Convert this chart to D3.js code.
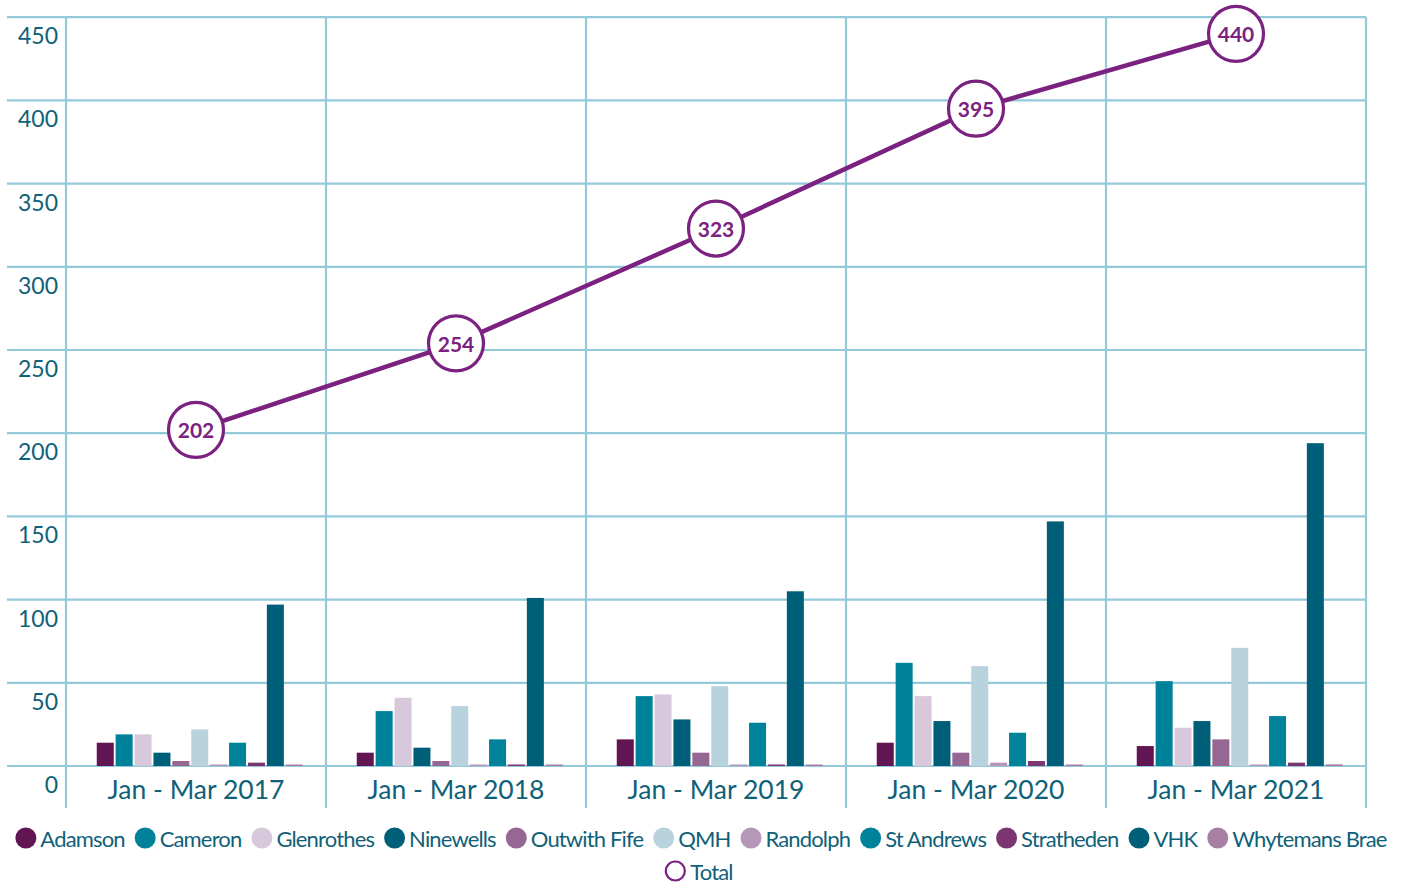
<!DOCTYPE html>
<html>
<head>
<meta charset="utf-8">
<script src="https://cdn.jsdelivr.net/npm/d3@7"></script>
<style>
  html, body { margin: 0; padding: 0; background: #ffffff; }
  svg { display: block; font-family: Lato, "Open Sans", sans-serif; }
</style>
</head>
<body>
<svg id="chart" width="1406" height="884"></svg>
<script>
// Quarterly periods on the x axis
const periods = ["Jan - Mar 2017", "Jan - Mar 2018", "Jan - Mar 2019", "Jan - Mar 2020", "Jan - Mar 2021"];

// Sites, one bar each per period
const sites = ["Adamson", "Cameron", "Glenrothes", "Ninewells", "Outwith Fife", "QMH",
               "Randolph", "St Andrews", "Stratheden", "VHK", "Whytemans Brae"];

const siteColors = ["#611653", "#00819a", "#d8c8dc", "#005f78", "#956792", "#b9d3de",
                    "#b597b8", "#00829a", "#7b3570", "#005f78", "#a67fa3"];

// Counts per site, one array per site in period order
const adamson     = [14, 8, 16, 14, 12];
const cameron     = [19, 33, 42, 62, 51];
const glenrothes  = [19, 41, 43, 42, 23];
const ninewells   = [8, 11, 28, 27, 27];
const outwithFife = [3, 3, 8, 8, 16];
const qmh         = [22, 36, 48, 60, 71];
const randolph    = [0, 0, 0, 2, 0];
const stAndrews   = [14, 16, 26, 20, 30];
const stratheden  = [2, 0, 0, 3, 2];
const vhk         = [97, 101, 105, 147, 194];
const whytemans   = [0, 0, 0, 0, 1];

// Overall total per period
const totals = [202, 254, 323, 395, 440];

// Y axis ticks
const yTicks = [0, 50, 100, 150, 200, 250, 300, 350, 400, 450];

const seriesValues = [adamson, cameron, glenrothes, ninewells, outwithFife, qmh,
                      randolph, stAndrews, stratheden, vhk, whytemans];

const gridColor = "#94c9da";
const textColor = "#0f6179";
const totalColor = "#7b2180";

const svg = d3.select("#chart");

const x = d3.scaleBand().domain(periods).range([66, 1366]).padding(0);
const y = d3.scaleLinear().domain([0, 450]).range([766, 17.2]);
const xSite = d3.scaleBand().domain(sites).range([29.8, 237.7]).paddingInner(0.1).paddingOuter(0.05);

// Horizontal gridlines
svg.append("g").selectAll("line").data(yTicks).join("line")
  .attr("x1", 7).attr("x2", 1366)
  .attr("y1", d => y(d)).attr("y2", d => y(d))
  .attr("stroke", gridColor).attr("stroke-width", 2.2);

// Vertical separators between periods
const bounds = periods.map(p => x(p)).concat([x(periods[periods.length - 1]) + x.bandwidth()]);
svg.append("g").selectAll("line").data(bounds).join("line")
  .attr("x1", d => d).attr("x2", d => d)
  .attr("y1", y(450)).attr("y2", 808)
  .attr("stroke", gridColor).attr("stroke-width", 2.2);

// Y tick labels sit just beneath each gridline
svg.append("g").selectAll("text").data(yTicks).join("text")
  .attr("x", 58).attr("y", d => y(d) + 18)
  .attr("text-anchor", "end").attr("dominant-baseline", "central")
  .attr("fill", textColor).attr("font-size", 23)
  .text(d => d);

// Period labels
svg.append("g").selectAll("text").data(periods).join("text")
  .attr("x", d => x(d) + x.bandwidth() / 2).attr("y", 789)
  .attr("text-anchor", "middle").attr("dominant-baseline", "central")
  .attr("fill", textColor).attr("font-size", 26.5)
  .text(d => d);

// Grouped bars
const barData = [];
periods.forEach((p, pi) => {
  sites.forEach((s, si) => {
    barData.push({ period: p, site: s, color: siteColors[si], value: seriesValues[si][pi] });
  });
});
svg.append("g").selectAll("rect").data(barData).join("rect")
  .attr("x", d => x(d.period) + xSite(d.site))
  .attr("width", xSite.bandwidth())
  .attr("y", d => Math.min(y(d.value), y(0) - 1.5))
  .attr("height", d => Math.max(y(0) - y(d.value), 1.5))
  .attr("fill", d => d.color);

// Total line with labelled circles
const totalPts = periods.map((p, i) => ({ p, v: totals[i] }));
svg.append("path").datum(totalPts)
  .attr("fill", "none").attr("stroke", totalColor).attr("stroke-width", 4.5)
  .attr("d", d3.line().x(d => x(d.p) + x.bandwidth() / 2).y(d => y(d.v)));

const marks = svg.append("g").selectAll("g").data(totalPts).join("g")
  .attr("transform", d => `translate(${x(d.p) + x.bandwidth() / 2},${y(d.v)})`);
marks.append("circle").attr("r", 27.5)
  .attr("fill", "#ffffff").attr("stroke", totalColor).attr("stroke-width", 3.2);
marks.append("text")
  .attr("text-anchor", "middle").attr("dominant-baseline", "central")
  .attr("fill", totalColor).attr("font-size", 21).attr("font-weight", "bold")
  .text(d => d.v);

// Legend: site swatches on the first row, total on the second
const legend = svg.append("g");
const row1 = legend.append("g");
let cx = 0;
sites.forEach((s, i) => {
  const item = row1.append("g").attr("transform", `translate(${cx},0)`);
  item.append("circle").attr("cx", 10.5).attr("cy", 0).attr("r", 10.5).attr("fill", siteColors[i]);
  const t = item.append("text").attr("x", 25).attr("y", 0)
    .attr("dominant-baseline", "central").attr("fill", textColor)
    .attr("font-size", 22).attr("letter-spacing", -0.85).text(s);
  cx += 25 + t.node().getComputedTextLength() + 10;
});
const row1Width = cx - 10;
row1.attr("transform", `translate(${701 - row1Width / 2},838)`);

const row2 = legend.append("g");
row2.append("circle").attr("cx", 10).attr("cy", 0).attr("r", 9.5)
  .attr("fill", "#ffffff").attr("stroke", totalColor).attr("stroke-width", 2.2);
const tt = row2.append("text").attr("x", 25).attr("y", 0)
  .attr("dominant-baseline", "central").attr("fill", textColor)
  .attr("font-size", 22).attr("letter-spacing", -0.85).text("Total");
const row2Width = 25 + tt.node().getComputedTextLength();
row2.attr("transform", `translate(${699 - row2Width / 2},871)`);
</script>
</body>
</html>
